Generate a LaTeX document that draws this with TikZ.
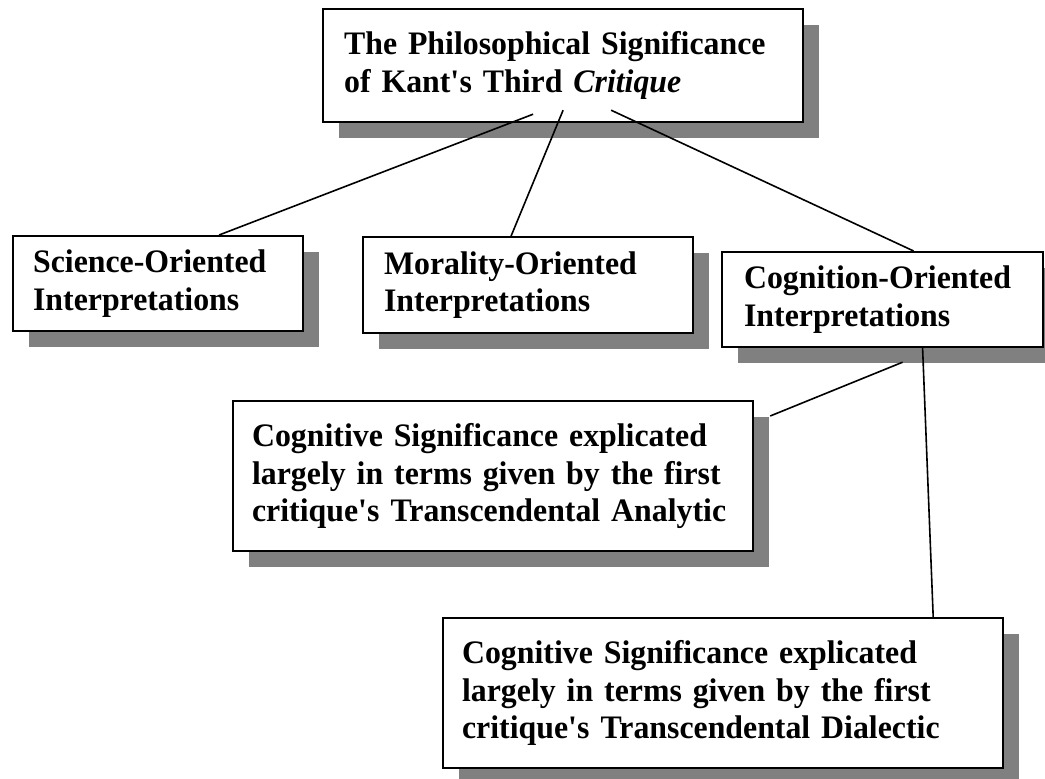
\documentclass[tikz,border=0pt]{standalone}
\usepackage{fontspec}
\setmainfont{Liberation Serif}[FakeStretch=0.97]
\usepackage{tikz}
\usetikzlibrary{positioning}
\usetikzlibrary{shadows}

\begin{document}
\begin{tikzpicture}[x=1pt,y=-1pt,
		box/.style={draw,line width=2.2pt,fill=white,anchor=north west,align=left,
			font=\fontsize{32.8}{37.5}\selectfont\bfseries,
			drop shadow={shadow xshift=16pt,shadow yshift=-16pt,fill=black!50,opacity=1}},
		link/.style={line width=1.6pt}]
		\useasboundingbox (0,0) rectangle (1045,779);
		\node[box,minimum width=480pt,minimum height=113pt,text width=438pt,inner xsep=21pt] (crit) at (322,8) {The Philosophical Significance\\of Kant\textquotesingle s Third \textit{Critique}\par\vspace{9pt}};
		\node[box,minimum width=290pt,minimum height=95pt,text width=250pt,inner xsep=20pt] (sci) at (12,235) {\mbox{Science-Oriented}\\Interpretations};
		\node[box,minimum width=330pt,minimum height=96pt,text width=288pt,inner xsep=21pt] (mor) at (362,236) {\mbox{Morality-Oriented}\\Interpretations};
		\node[box,minimum width=321pt,minimum height=95pt,text width=277pt,inner xsep=22pt] (cog) at (721,251) {\mbox{Cognition-Oriented}\\Interpretations};
		
		\node[box,minimum width=520pt,minimum height=150pt,text width=482pt,inner xsep=19pt] (ana) at (232,400) {\mbox{Cognitive Significance explicated}\\\mbox{largely in terms given by the first}\\\mbox{critique\textquotesingle s Transcendental Analytic}\par\vspace{9pt}};
		\node[box,minimum width=560pt,minimum height=150pt,text width=522pt,inner xsep=19pt] (dia) at (442,617) {\mbox{Cognitive Significance explicated}\\\mbox{largely in terms given by the first}\\\mbox{critique\textquotesingle s Transcendental Dialectic}\par\vspace{9pt}};
		\path[link]
		([xshift=-30pt,yshift=9pt]crit.south) edge ([xshift=61pt]sci.north)
		([yshift=13pt]crit.south) edge ([xshift=-17pt]mor.north)
		([xshift=48pt,yshift=13pt]crit.south) edge ([xshift=31pt]cog.north)
		([xshift=20pt,yshift=-14pt]cog.south) edge ([xshift=16pt,yshift=-16pt]ana.north east)
		([xshift=40pt]cog.south) edge ([xshift=-71pt]dia.north east)
		;
	\end{tikzpicture}
\end{document}
